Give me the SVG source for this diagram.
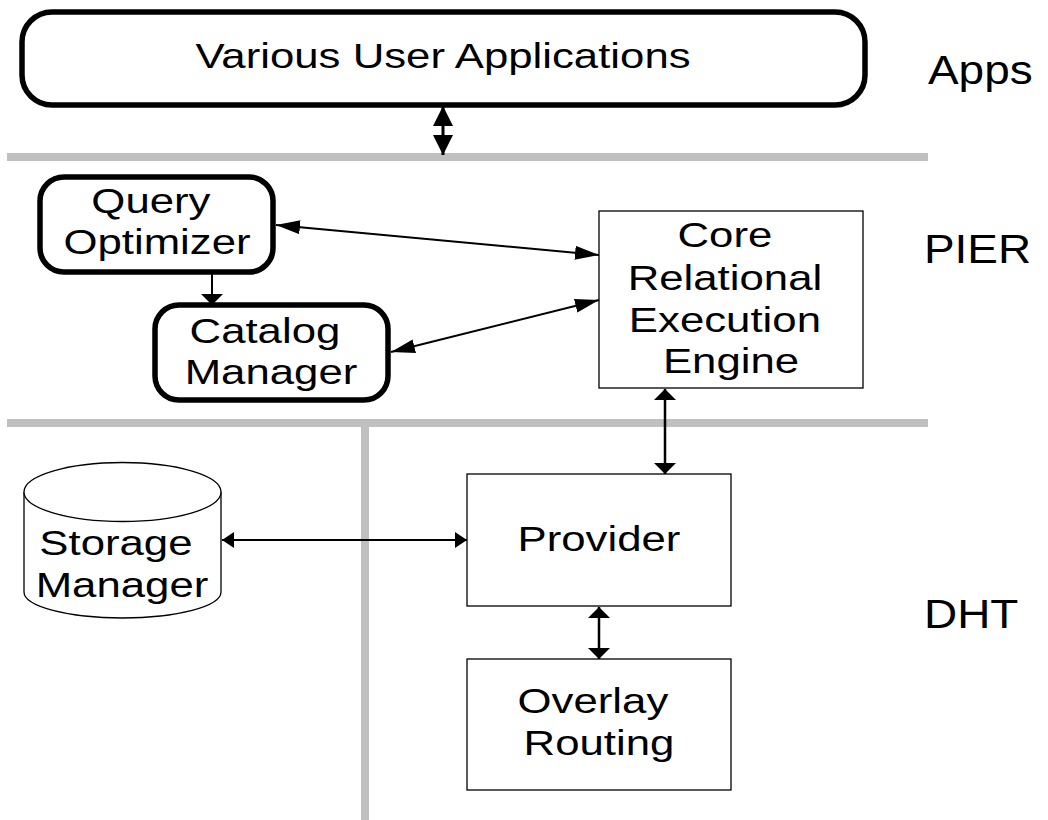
<svg xmlns="http://www.w3.org/2000/svg" width="1048" height="820" viewBox="0 0 1048 820">
  <style>
    .lbl { font-family: "Liberation Sans", Arial, sans-serif; font-size: 35px; fill: #000; text-anchor: middle; }
    .layer { font-family: "Liberation Sans", Arial, sans-serif; font-size: 41px; fill: #000; }
    .thick { fill: #fff; stroke: #000; stroke-width: 5.5; }
    .thin { fill: #fff; stroke: #000; stroke-width: 1.3; }
    .sep { stroke: #c0c0c0; stroke-width: 8; fill: none; }
    .conn { stroke: #000; fill: none; }
  </style>
  <defs>
    <marker id="headBig" markerUnits="userSpaceOnUse" markerWidth="20" markerHeight="20" refX="20" refY="10" orient="auto-start-reverse">
      <path d="M0,0 L20,10 L0,20 z" fill="#000"/>
    </marker>
    <marker id="headFlat" markerUnits="userSpaceOnUse" markerWidth="11" markerHeight="22" refX="11" refY="11" orient="auto-start-reverse">
      <path d="M0,0 L11,11 L0,22 z" fill="#000"/>
    </marker>
    <marker id="headSide" markerUnits="userSpaceOnUse" markerWidth="12" markerHeight="16" refX="12" refY="8" orient="auto-start-reverse">
      <path d="M0,0 L12,8 L0,16 z" fill="#000"/>
    </marker>
    <marker id="headLong" markerUnits="userSpaceOnUse" markerWidth="24" markerHeight="14" refX="24" refY="7" orient="auto-start-reverse">
      <path d="M0,0 L24,7 L0,14 z" fill="#000"/>
    </marker>
  </defs>

  <rect width="1048" height="820" fill="#fff"/>

  <!-- layer separators -->
  <g id="separators">
    <line class="sep" x1="7" y1="157" x2="928" y2="157"/>
    <line class="sep" x1="7" y1="423" x2="928" y2="423"/>
    <line class="sep" x1="365" y1="423" x2="365" y2="820"/>
  </g>

  <!-- layer names -->
  <g id="layer-labels">
    <text class="layer" transform="translate(928,84) scale(1.12,1)">Apps</text>
    <text class="layer" transform="translate(924,263) scale(1.12,1)">PIER</text>
    <text class="layer" transform="translate(924,628) scale(1.12,1)">DHT</text>
  </g>

  <g id="user-apps">
    <rect class="thick" x="22" y="12" width="843" height="93" rx="30" ry="30"/>
    <text class="lbl" transform="translate(443,68) scale(1.25,1)">Various User Applications</text>
  </g>

  <g id="query-optimizer">
    <rect class="thick" x="40" y="177" width="233" height="95" rx="24" ry="24"/>
    <text class="lbl" transform="translate(157,0) scale(1.25,1)">
      <tspan x="0" y="213">Query</tspan>
      <tspan x="0" y="254">Optimizer</tspan>
    </text>
  </g>

  <g id="catalog-manager">
    <rect class="thick" x="155" y="305" width="233" height="95" rx="24" ry="24"/>
    <text class="lbl" transform="translate(271,0) scale(1.25,1)">
      <tspan x="0" y="343">Catalog</tspan>
      <tspan x="0" y="384">Manager</tspan>
    </text>
  </g>

  <g id="core-engine">
    <rect class="thin" x="599" y="211" width="264" height="177"/>
    <text class="lbl" transform="translate(731,0) scale(1.25,1)">
      <tspan x="0" y="247">Core</tspan>
      <tspan x="0" y="290">Relational</tspan>
      <tspan x="0" y="332">Execution</tspan>
      <tspan x="0" y="373">Engine</tspan>
    </text>
  </g>

  <g id="storage-manager">
    <path class="thin" d="M24,492 L24,592 A98.5,26 0 0 0 221,592 L221,492 A98.5,29.5 0 0 0 24,492 Z"/>
    <path class="thin" fill="none" d="M24,492 A98.5,29.5 0 0 0 221,492"/>
    <text class="lbl" transform="translate(122,0) scale(1.25,1)">
      <tspan x="0" y="555">Storage</tspan>
      <tspan x="0" y="597">Manager</tspan>
    </text>
  </g>

  <g id="provider">
    <rect class="thin" x="467" y="474" width="264" height="132"/>
    <text class="lbl" transform="translate(599,551) scale(1.25,1)">Provider</text>
  </g>

  <g id="overlay-routing">
    <rect class="thin" x="467" y="659" width="264" height="131"/>
    <text class="lbl" transform="translate(599,0) scale(1.25,1)">
      <tspan x="0" y="713">Overlay</tspan>
      <tspan x="0" y="755">Routing</tspan>
    </text>
  </g>

  <!-- connectors -->
  <g id="connectors" class="conn">
    <line x1="443" y1="106" x2="443" y2="155" stroke-width="3" marker-start="url(#headBig)" marker-end="url(#headBig)"/>
    <line x1="276" y1="225" x2="599" y2="255" stroke-width="2" marker-start="url(#headLong)" marker-end="url(#headLong)"/>
    <line x1="391" y1="352" x2="599" y2="300" stroke-width="2" marker-start="url(#headLong)" marker-end="url(#headLong)"/>
    <line x1="212" y1="272" x2="212" y2="305" stroke-width="2" marker-end="url(#headFlat)"/>
    <line x1="665" y1="389" x2="665" y2="474" stroke-width="2.5" marker-start="url(#headFlat)" marker-end="url(#headFlat)"/>
    <line x1="222" y1="540" x2="467" y2="540" stroke-width="2" marker-start="url(#headSide)" marker-end="url(#headSide)"/>
    <line x1="599" y1="607" x2="599" y2="659" stroke-width="2.5" marker-start="url(#headFlat)" marker-end="url(#headFlat)"/>
  </g>
</svg>
